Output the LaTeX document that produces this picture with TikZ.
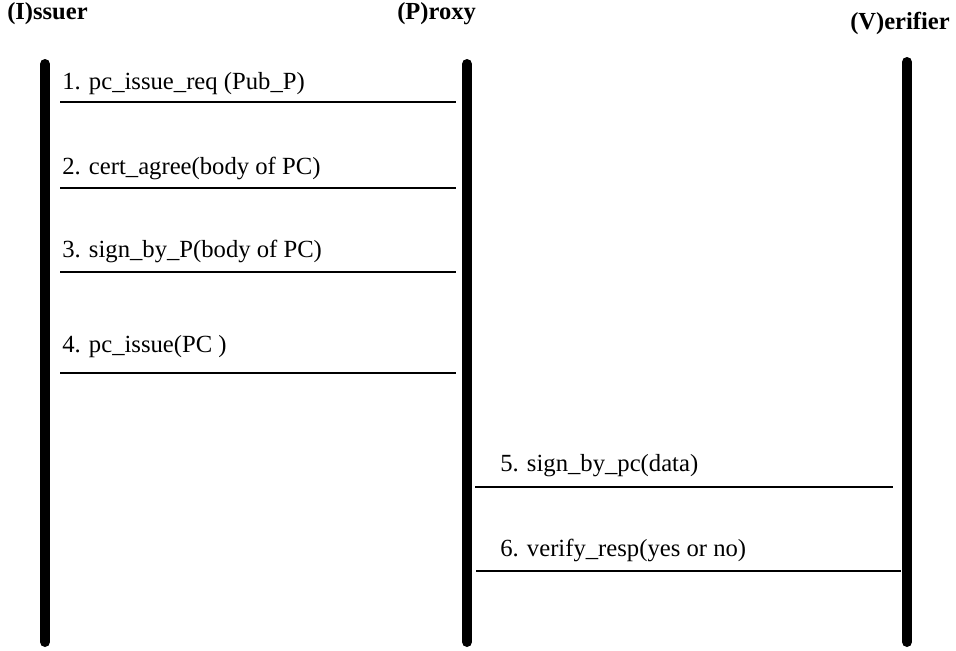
\documentclass[tikz,border=0pt]{standalone}
\usepackage{fontspec}
\setmainfont{Liberation Serif}
\begin{document}
\begin{tikzpicture}[x=0.75pt,y=-0.75pt,
  lifeline/.style={line width=7.5pt,line cap=round},
  msg/.style={line width=1.5pt},
  lbl/.style={anchor=west,inner sep=0pt,font=\fontsize{18.5}{22}\selectfont},
  hdr/.style={anchor=west,inner sep=0pt,font=\fontsize{18.4}{22}\selectfont\bfseries}]
\useasboundingbox (0,0) rectangle (956,650);
% headers
\node[hdr] (hI) at (7,14) {(I)ssuer};
\node[hdr] (hP) at (397,14) {(P)roxy};
\node[hdr] (hV) at (850,23) {(V)erifier};
% lifelines
\coordinate (Itop) at (45,64); \coordinate (Ibot) at (45,642);
\coordinate (Ptop) at (467,64); \coordinate (Pbot) at (467,642);
\coordinate (Vtop) at (907,62); \coordinate (Vbot) at (907,642);
\draw[lifeline] (Itop) -- (Ibot);
\draw[lifeline] (Ptop) -- (Pbot);
\draw[lifeline] (Vtop) -- (Vbot);
% messages
\coordinate (m1a) at (60,102); \coordinate (m1b) at (456,102);
\coordinate (m2a) at (60,188); \coordinate (m2b) at (456,188);
\coordinate (m3a) at (60,272); \coordinate (m3b) at (456,272);
\coordinate (m4a) at (60,373); \coordinate (m4b) at (456,373);
\coordinate (m5a) at (475,487); \coordinate (m5b) at (893,487);
\coordinate (m6a) at (476,571); \coordinate (m6b) at (901,571);
\draw[msg] (m1a) -- (m1b);
\draw[msg] (m2a) -- (m2b);
\draw[msg] (m3a) -- (m3b);
\draw[msg] (m4a) -- (m4b);
\draw[msg] (m5a) -- (m5b);
\draw[msg] (m6a) -- (m6b);
\node[lbl] (l1) at (62,84) {1. pc\_issue\_req (Pub\_P)};
\node[lbl] (l2) at (62,168) {2. cert\_agree(body of PC)};
\node[lbl] (l3) at (62,251) {3. sign\_by\_P(body of PC)};
\node[lbl] (l4) at (62,347) {4. pc\_issue(PC )};
\node[lbl] (l5) at (500,466) {5. sign\_by\_pc(data)};
\node[lbl] (l6) at (500,550) {6. verify\_resp(yes or no)};
\end{tikzpicture}
\end{document}
